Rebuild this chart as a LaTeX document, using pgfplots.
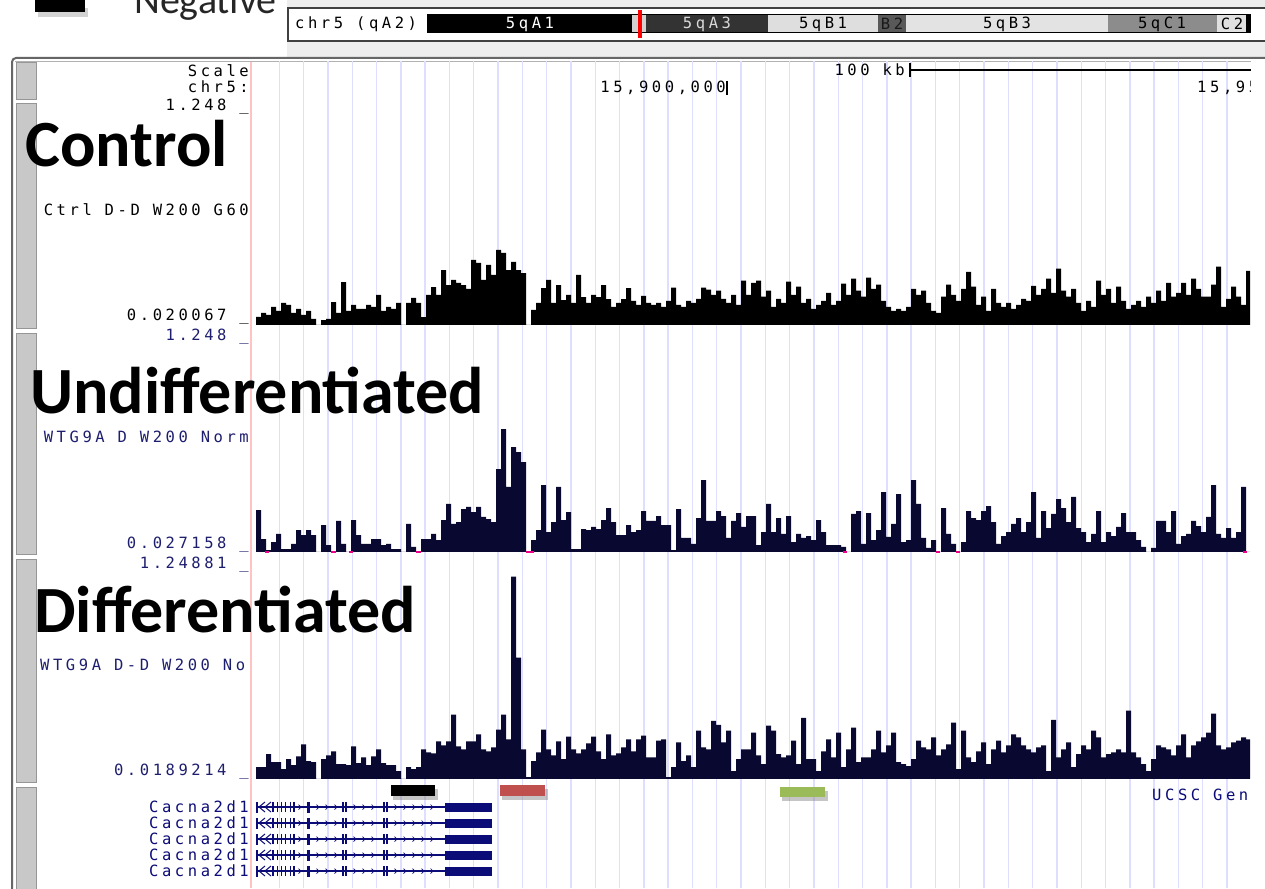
\documentclass[border=0pt]{standalone}
\usepackage{fontspec}
\usepackage{pgfplots}
\pgfplotsset{compat=1.18}
\setmainfont{Carlito}
\newfontfamily\ucsc[LetterSpace=23]{DejaVu Sans Mono}
\newcommand{\uf}{\ucsc\fontsize{15.5}{16}\selectfont}
\newcommand{\bigf}{\bfseries\fontsize{66}{66}\selectfont}
\definecolor{navyd}{RGB}{8,8,48}
\definecolor{lbl}{RGB}{30,30,110}
\definecolor{gene}{RGB}{12,12,120}
\definecolor{lav}{RGB}{222,222,255}
\definecolor{pinkline}{RGB}{255,195,195}
\definecolor{redbar}{RGB}{192,80,77}
\definecolor{grnbar}{RGB}{155,187,89}
\definecolor{btn}{RGB}{200,200,200}
\definecolor{btnd}{RGB}{150,150,150}
\pgfplotsset{
 pix/.style={at={(0pt,0pt)}, anchor=south west, scale only axis, width=1265pt, height=888pt,
   xmin=0, xmax=1265, ymin=0, ymax=888, y dir=reverse, hide axis, clip=false},
 trk/.style={anchor=south west, scale only axis, width=994pt, xmin=0, xmax=198.8, hide axis, clip=true}
}
\newcommand{\gm}[1]{%
 \draw[gene, line width=1.2pt] (axis cs:256,#1) -- (axis cs:446,#1);
 \fill[gene] (axis cs:445,#1) ++(0,-4.5pt) rectangle ++(47pt,9pt);
 \fill[gene] (axis cs:307,#1) ++(0,-5.5pt) rectangle ++(3pt,11pt);
 \draw[gene, line width=1.3pt]
  (axis cs:257,#1) ++(0,-5.5pt) -- ++(0,11pt)
  (axis cs:273,#1) ++(0,-5pt) -- ++(0,10pt)
  (axis cs:277.5,#1) ++(0,-5pt) -- ++(0,10pt)
  (axis cs:281.6,#1) ++(0,-5pt) -- ++(0,10pt)
  (axis cs:285.7,#1) ++(0,-5pt) -- ++(0,10pt)
  (axis cs:290.6,#1) ++(0,-5pt) -- ++(0,10pt)
  (axis cs:294,#1) ++(0,-5pt) -- ++(0,10pt)
  (axis cs:343,#1) ++(0,-5pt) -- ++(0,10pt)
  (axis cs:346,#1) ++(0,-5pt) -- ++(0,10pt)
  (axis cs:384,#1) ++(0,-5pt) -- ++(0,10pt)
  (axis cs:387,#1) ++(0,-5pt) -- ++(0,10pt);
 \draw[gene, line width=1pt]
  (axis cs:265,#1) ++(0,-5pt) -- ++(-6pt,5pt) -- ++(6pt,5pt)
  (axis cs:271,#1) ++(0,-5pt) -- ++(-6pt,5pt) -- ++(6pt,5pt);
 \draw[gene, line width=0.7pt]
  (axis cs:300,#1) ++(-1.5pt,-2.5pt) -- ++(2.5pt,2.5pt) -- ++(-2.5pt,2.5pt)
  (axis cs:318,#1) ++(-1.5pt,-2.5pt) -- ++(2.5pt,2.5pt) -- ++(-2.5pt,2.5pt)
  (axis cs:327,#1) ++(-1.5pt,-2.5pt) -- ++(2.5pt,2.5pt) -- ++(-2.5pt,2.5pt)
  (axis cs:336,#1) ++(-1.5pt,-2.5pt) -- ++(2.5pt,2.5pt) -- ++(-2.5pt,2.5pt)
  (axis cs:355,#1) ++(-1.5pt,-2.5pt) -- ++(2.5pt,2.5pt) -- ++(-2.5pt,2.5pt)
  (axis cs:364,#1) ++(-1.5pt,-2.5pt) -- ++(2.5pt,2.5pt) -- ++(-2.5pt,2.5pt)
  (axis cs:373,#1) ++(-1.5pt,-2.5pt) -- ++(2.5pt,2.5pt) -- ++(-2.5pt,2.5pt)
  (axis cs:396,#1) ++(-1.5pt,-2.5pt) -- ++(2.5pt,2.5pt) -- ++(-2.5pt,2.5pt)
  (axis cs:405,#1) ++(-1.5pt,-2.5pt) -- ++(2.5pt,2.5pt) -- ++(-2.5pt,2.5pt)
  (axis cs:414,#1) ++(-1.5pt,-2.5pt) -- ++(2.5pt,2.5pt) -- ++(-2.5pt,2.5pt)
  (axis cs:423,#1) ++(-1.5pt,-2.5pt) -- ++(2.5pt,2.5pt) -- ++(-2.5pt,2.5pt)
  (axis cs:432,#1) ++(-1.5pt,-2.5pt) -- ++(2.5pt,2.5pt) -- ++(-2.5pt,2.5pt);
}
\begin{document}
\begin{tikzpicture}
\path[use as bounding box] (0,0) rectangle (1265pt,888pt);
\clip (0,0) rectangle (1265pt,888pt);
% ---------- background ----------
\begin{axis}[pix]
 \fill[white] (axis cs:0,0) rectangle (axis cs:1265,888);
 \fill[black!7] (axis cs:287,0) rectangle (axis cs:1265,58);
 \fill[black!35, opacity=.5] (axis cs:38,8) rectangle (axis cs:88,17);
 \fill[black] (axis cs:35,0) rectangle (axis cs:85,12);
 \node[anchor=base west, font=\fontsize{40}{40}\selectfont, text=black!85, inner sep=0pt] at (axis cs:134,14) {Negative};
 \filldraw[fill=white, draw=black!75, line width=1.5pt] (axis cs:288,8) rectangle (axis cs:1275,41);
 \node[anchor=west, font=\uf, inner sep=0pt] at (axis cs:295,24) {chr5 (qA2)};
 \fill[black] (axis cs:427,15) rectangle (axis cs:632,33);
 \fill[black!18] (axis cs:632,15) rectangle (axis cs:646,33);
 \fill[black!80] (axis cs:646,15) rectangle (axis cs:768,33);
 \fill[black!13] (axis cs:768,15) rectangle (axis cs:878,33);
 \fill[black!65] (axis cs:878,15) rectangle (axis cs:906,33);
 \fill[black!11] (axis cs:906,15) rectangle (axis cs:1108,33);
 \fill[black!45] (axis cs:1108,15) rectangle (axis cs:1217,33);
 \fill[black!12] (axis cs:1217,15) rectangle (axis cs:1246,33);
 \fill[black] (axis cs:1246,15) rectangle (axis cs:1250,33);
 \draw[black, line width=1pt] (axis cs:427,15) rectangle (axis cs:1250,33);
 \node[font=\uf, text=white, inner sep=0pt] at (axis cs:530,24) {5qA1};
 \node[font=\uf, text=black!15, inner sep=0pt] at (axis cs:707,24) {5qA3};
 \node[font=\uf, inner sep=0pt] at (axis cs:823,24) {5qB1};
 \node[font=\uf, text=black!90, inner sep=0pt] at (axis cs:892,24) {B2};
 \node[font=\uf, inner sep=0pt] at (axis cs:1007,24) {5qB3};
 \node[font=\uf, inner sep=0pt] at (axis cs:1162,24) {5qC1};
 \node[font=\uf, inner sep=0pt] at (axis cs:1232,24) {C2};
 \fill[red] (axis cs:638,10) rectangle (axis cs:642,38);
 \fill[white] (axis cs:12,58) rectangle (axis cs:1265,888);
 \draw[black!60, line width=2pt, rounded corners=4pt] (axis cs:1270,58) -- (axis cs:12,58) -- (axis cs:12,895);
 \draw[black!30, line width=1pt] (axis cs:1270,61.5) -- (axis cs:15,61.5);
 \filldraw[fill=btn, draw=btnd, line width=1pt] (axis cs:16,63) rectangle (axis cs:36,100);
 \filldraw[fill=btn, draw=btnd, line width=1pt] (axis cs:16,104) rectangle (axis cs:36,328);
 \filldraw[fill=btn, draw=btnd, line width=1pt] (axis cs:16,333) rectangle (axis cs:36,554);
 \filldraw[fill=btn, draw=btnd, line width=1pt] (axis cs:16,559) rectangle (axis cs:36,782);
 \filldraw[fill=btn, draw=btnd, line width=1pt] (axis cs:16,787) rectangle (axis cs:36,900);
 \draw[pinkline, line width=1.5pt] (axis cs:251,62) -- (axis cs:251,888);
\end{axis}
% ---------- vertical guide lines ----------
\begin{axis}[at={(256pt,0pt)}, anchor=south west, scale only axis, width=994pt, height=827pt,
  xmin=256, xmax=1250, ymin=0, ymax=1, axis line style={draw=none}, tick style={draw=none},
  xtick={279.3,303.6,...,1250}, xticklabels={}, ytick=\empty, xmajorgrids,
  major grid style={draw=lav, line width=1.4pt}]
\end{axis}
% ---------- Control track ----------
\begin{axis}[trk, at={(256pt,563pt)}, height=217pt, ymin=0.020067, ymax=1.248]
\addplot[const plot, fill=black, draw=none] coordinates {
(0,0.066)(1,0.088)(2,0.077)(3,0.123)(4,0.100)(5,0.145)(6,0.134)(7,0.088)(8,0.111)(9,0.077)
(10,0.100)(11,0.054)(12,0.020)(13,0.048)(14,0.054)(15,0.150)(16,0.088)(17,0.263)(18,0.100)(19,0.134)
(20,0.111)(21,0.111)(22,0.134)(23,0.122)(24,0.190)(25,0.100)(26,0.122)(27,0.111)(28,0.145)(29,0.020)
(30,0.145)(31,0.173)(32,0.145)(33,0.065)(34,0.190)(35,0.235)(36,0.190)(37,0.331)(38,0.246)(39,0.275)
(40,0.258)(41,0.246)(42,0.224)(43,0.388)(44,0.371)(45,0.275)(46,0.360)(47,0.303)(48,0.445)(49,0.428)
(50,0.331)(51,0.377)(52,0.331)(53,0.314)(54,0.020)(55,0.105)(56,0.145)(57,0.229)(58,0.275)(59,0.145)
(60,0.246)(61,0.161)(62,0.190)(63,0.145)(64,0.303)(65,0.178)(66,0.145)(67,0.190)(68,0.178)(69,0.246)
(70,0.167)(71,0.122)(72,0.145)(73,0.167)(74,0.229)(75,0.156)(76,0.134)
(77,0.185)(78,0.145)(79,0.134)(80,0.145)(81,0.123)(82,0.157)(83,0.231)(84,0.134)(85,0.123)(86,0.157)
(87,0.145)(88,0.168)(89,0.231)(90,0.220)(91,0.191)(92,0.214)(93,0.168)(94,0.145)(95,0.191)(96,0.134)
(97,0.271)(98,0.191)(99,0.259)(100,0.271)(101,0.180)(102,0.214)(103,0.123)(104,0.168)(105,0.145)(106,0.265)
(107,0.191)(108,0.237)(109,0.145)(110,0.168)(111,0.111)(112,0.134)(113,0.157)(114,0.202)(115,0.134)(116,0.157)
(117,0.254)(118,0.191)(119,0.282)(120,0.214)(121,0.180)(122,0.288)(123,0.225)(124,0.248)(125,0.157)(126,0.123)
(127,0.100)(128,0.111)(129,0.100)(130,0.123)(131,0.225)(132,0.191)(133,0.214)(134,0.145)(135,0.100)(136,0.088)
(137,0.180)(138,0.248)(139,0.191)(140,0.157)(141,0.225)(142,0.320)(143,0.237)(144,0.134)(145,0.180)(146,0.100)
(147,0.225)(148,0.145)(149,0.123)(150,0.145)(151,0.111)(152,0.134)(153,0.168)(154,0.157)(155,0.242)(156,0.191)
(157,0.225)(158,0.282)(159,0.202)(160,0.339)(161,0.214)(162,0.180)(163,0.225)(164,0.145)(165,0.100)(166,0.157)
(167,0.123)(168,0.271)(169,0.191)(170,0.225)(171,0.145)(172,0.237)(173,0.157)(174,0.111)(175,0.134)(176,0.157)
(177,0.123)(178,0.180)(179,0.145)(180,0.214)(181,0.157)(182,0.259)(183,0.180)(184,0.202)(185,0.259)(186,0.191)
(187,0.282)(188,0.225)(189,0.180)(190,0.180)(191,0.248)(192,0.351)(193,0.123)(194,0.168)(195,0.237)(196,0.180)
(197,0.134)(198,0.326)(199,0.326)
} \closedcycle;
\end{axis}
% ---------- Undifferentiated track ----------
\begin{axis}[trk, at={(256pt,336pt)}, height=214pt, ymin=0.027158, ymax=1.248]
\addplot[const plot, fill=navyd, draw=none] coordinates {
(0,0.266)(1,0.101)(2,0.038)(3,0.084)(4,0.130)(5,0.044)(6,0.044)(7,0.073)(8,0.152)(9,0.124)
(10,0.152)(11,0.124)(12,0.027)(13,0.181)(14,0.067)(15,0.027)(16,0.204)(17,0.073)(18,0.027)(19,0.209)
(20,0.124)(21,0.073)(22,0.073)(23,0.101)(24,0.101)(25,0.067)(26,0.073)(27,0.044)(28,0.044)(29,0.027)
(30,0.187)(31,0.056)(32,0.027)(33,0.101)(34,0.101)(35,0.130)(36,0.095)(37,0.209)(38,0.301)(39,0.187)
(40,0.198)(41,0.272)(42,0.284)(43,0.255)(44,0.284)(45,0.227)(46,0.215)(47,0.198)(48,0.500)(49,0.728)
(50,0.398)(51,0.626)(52,0.597)(53,0.540)(54,0.027)(55,0.095)(56,0.152)(57,0.409)(58,0.141)(59,0.198)
(60,0.398)(61,0.209)(62,0.255)(63,0.044)(64,0.044)(65,0.158)(66,0.152)(67,0.170)(68,0.158)(69,0.209)
(70,0.278)(71,0.198)(72,0.124)(73,0.124)(74,0.181)(75,0.141)(76,0.152)(77,0.261)(78,0.204)(79,0.204)
(80,0.232)(81,0.181)(82,0.181)(83,0.038)(84,0.272)(85,0.107)(86,0.107)(87,0.073)(88,0.221)(89,0.437)
(90,0.204)(91,0.204)(92,0.261)(93,0.232)(94,0.107)(95,0.204)(96,0.249)(97,0.170)(98,0.232)(99,0.232)
(100,0.067)(101,0.141)(102,0.301)(103,0.141)(104,0.221)(105,0.130)(106,0.232)(107,0.084)(108,0.130)(109,0.107)
(110,0.118)(111,0.095)(112,0.209)(113,0.141)(114,0.067)(115,0.067)(116,0.067)(117,0.056)(118,0.027)(119,0.244)
(120,0.261)(121,0.073)(122,0.249)(123,0.095)(124,0.152)(125,0.369)(126,0.113)(127,0.187)(128,0.358)(129,0.084)
(130,0.095)(131,0.437)(132,0.301)(133,0.107)(134,0.050)(135,0.095)(136,0.027)(137,0.278)(138,0.130)(139,0.073)
(140,0.027)(141,0.084)(142,0.261)(143,0.221)(144,0.209)(145,0.261)(146,0.289)(147,0.198)(148,0.073)(149,0.118)
(150,0.141)(151,0.187)(152,0.221)(153,0.141)(154,0.198)(155,0.369)(156,0.107)(157,0.261)(158,0.164)(159,0.244)
(160,0.329)(161,0.278)(162,0.198)(163,0.341)(164,0.164)(165,0.141)(166,0.084)(167,0.130)(168,0.261)(169,0.084)
(170,0.141)(171,0.118)(172,0.170)(173,0.249)(174,0.141)(175,0.141)(176,0.095)(177,0.056)(178,0.027)(179,0.050)
(180,0.204)(181,0.204)(182,0.141)(183,0.261)(184,0.073)(185,0.118)(186,0.130)(187,0.204)(188,0.175)(189,0.141)
(190,0.227)(191,0.409)(192,0.130)(193,0.107)(194,0.164)(195,0.107)(196,0.141)(197,0.398)(198,0.027)(199,0.027)
} \closedcycle;
\end{axis}
% ---------- Differentiated track ----------
\begin{axis}[trk, at={(256pt,109pt)}, height=213pt, ymin=0.0189214, ymax=1.24881]
\addplot[const plot, fill=navyd, draw=none] coordinates {
(0,0.087)(1,0.087)(2,0.162)(3,0.116)(4,0.116)(5,0.076)(6,0.133)(7,0.099)(8,0.150)(9,0.219)
(10,0.122)(11,0.116)(12,0.019)(13,0.133)(14,0.156)(15,0.179)(16,0.105)(17,0.105)(18,0.099)(19,0.207)
(20,0.110)(21,0.144)(22,0.099)(23,0.150)(24,0.190)(25,0.110)(26,0.099)(27,0.099)(28,0.065)(29,0.019)
(30,0.087)(31,0.076)(32,0.087)(33,0.190)(34,0.173)(35,0.167)(36,0.236)(37,0.213)(38,0.236)(39,0.390)
(40,0.207)(41,0.190)(42,0.236)(43,0.236)(44,0.276)(45,0.190)(46,0.179)(47,0.201)(48,0.304)(49,0.390)
(50,0.247)(51,1.188)(52,0.720)(53,0.190)(54,0.030)(55,0.122)(56,0.173)(57,0.304)(58,0.190)(59,0.156)
(60,0.236)(61,0.133)(62,0.264)(63,0.190)(64,0.167)(65,0.190)(66,0.224)(67,0.264)(68,0.179)(69,0.133)
(70,0.276)(71,0.156)(72,0.167)(73,0.201)(74,0.247)(75,0.179)(76,0.247)(77,0.270)(78,0.144)(79,0.144)
(80,0.241)(81,0.247)(82,0.030)(83,0.087)(84,0.230)(85,0.122)(86,0.156)(87,0.087)(88,0.298)(89,0.201)
(90,0.190)(91,0.355)(92,0.332)(93,0.230)(94,0.298)(95,0.065)(96,0.133)(97,0.190)(98,0.190)(99,0.287)
(100,0.156)(101,0.105)(102,0.327)(103,0.298)(104,0.162)(105,0.144)(106,0.156)(107,0.241)(108,0.105)(109,0.372)
(110,0.133)(111,0.133)(112,0.065)(113,0.179)(114,0.247)(115,0.144)(116,0.287)(117,0.087)(118,0.190)(119,0.316)
(120,0.116)(121,0.144)(122,0.144)(123,0.190)(124,0.298)(125,0.173)(126,0.213)(127,0.287)(128,0.116)(129,0.105)
(130,0.093)(131,0.133)(132,0.241)(133,0.201)(134,0.190)(135,0.259)(136,0.156)(137,0.190)(138,0.219)(139,0.344)
(140,0.076)(141,0.298)(142,0.144)(143,0.116)(144,0.179)(145,0.230)(146,0.105)(147,0.190)(148,0.241)(149,0.173)
(150,0.213)(151,0.276)(152,0.259)(153,0.213)(154,0.190)(155,0.173)(156,0.201)(157,0.213)(158,0.065)(159,0.361)
(160,0.144)(161,0.190)(162,0.230)(163,0.087)(164,0.162)(165,0.213)(166,0.190)(167,0.298)(168,0.259)(169,0.144)
(170,0.162)(171,0.173)(172,0.190)(173,0.173)(174,0.413)(175,0.173)(176,0.144)(177,0.105)(178,0.065)(179,0.133)
(180,0.213)(181,0.201)(182,0.190)(183,0.156)(184,0.213)(185,0.276)(186,0.144)(187,0.213)(188,0.236)(189,0.259)
(190,0.287)(191,0.396)(192,0.213)(193,0.190)(194,0.201)(195,0.230)(196,0.241)(197,0.259)(198,0.247)(199,0.247)
} \closedcycle;
\end{axis}
% ---------- overlay: labels, genes ----------
\begin{axis}[pix]
 \draw[magenta, line width=2pt] (axis cs:265,552) -- (axis cs:269,552) (axis cs:331,552) -- (axis cs:336,552)
   (axis cs:349,552) -- (axis cs:353,552) (axis cs:416,552) -- (axis cs:421,552) (axis cs:526,552) -- (axis cs:534,552)
   (axis cs:843,552) -- (axis cs:847,552) (axis cs:936,552) -- (axis cs:940,552) (axis cs:956,552) -- (axis cs:960,552)
   (axis cs:1243,552) -- (axis cs:1247,552);
 \node[anchor=east, font=\uf, inner sep=0pt] at (axis cs:249,71) {Scale};
 \node[anchor=east, font=\uf, inner sep=0pt] at (axis cs:249,87) {chr5:};
 \node[anchor=east, font=\uf, inner sep=0pt] at (axis cs:905,70) {100 kb};
 \draw[black, line width=1.3pt] (axis cs:910,63) -- (axis cs:910,77) (axis cs:910,70) -- (axis cs:1265,70);
 \node[anchor=east, font=\uf, inner sep=0pt] at (axis cs:726,88) {15,900,000};
 \draw[black, line width=1.3pt] (axis cs:727,81) -- (axis cs:727,95);
 \node[anchor=west, font=\uf, inner sep=0pt] at (axis cs:1197,88) {15,950,000};
 \node[anchor=east, font=\uf, inner sep=0pt] at (axis cs:249,107) {1.248 \_};
 \node[anchor=base west, font=\bigf, inner sep=0pt] at (axis cs:25,166) {Control};
 \node[anchor=east, font=\uf, inner sep=0pt] at (axis cs:249,210) {Ctrl D-D W200 G60};
 \node[anchor=east, font=\uf, inner sep=0pt] at (axis cs:249,317) {0.020067 \_};
 \node[anchor=east, font=\uf, text=lbl, inner sep=0pt] at (axis cs:249,337) {1.248 \_};
 \node[anchor=base west, font=\bigf, inner sep=0pt] at (axis cs:30,413) {Undifferentiated};
 \node[anchor=east, font=\uf, text=lbl, inner sep=0pt] at (axis cs:249,437) {WTG9A D W200 Norm};
 \node[anchor=east, font=\uf, text=lbl, inner sep=0pt] at (axis cs:249,545) {0.027158 \_};
 \node[anchor=east, font=\uf, text=lbl, inner sep=0pt] at (axis cs:249,565) {1.24881 \_};
 \node[anchor=base west, font=\bigf, inner sep=0pt] at (axis cs:34,632) {Differentiated};
 \begin{scope}
  \clip (axis cs:30,640) rectangle (axis cs:250,690);
  \node[anchor=west, font=\uf, text=lbl, inner sep=0pt] at (axis cs:40,665) {WTG9A D-D W200 Norm};
 \end{scope}
 \node[anchor=east, font=\uf, text=lbl, inner sep=0pt] at (axis cs:249,772) {0.0189214 \_};
 \fill[black!50, opacity=.45] (axis cs:393,789) rectangle (axis cs:438,800);
 \fill[black] (axis cs:391,785) rectangle (axis cs:435,796);
 \fill[black!50, opacity=.45] (axis cs:502,789) rectangle (axis cs:548,800);
 \fill[redbar] (axis cs:500,785) rectangle (axis cs:545,796);
 \fill[black!50, opacity=.45] (axis cs:782,791) rectangle (axis cs:828,801);
 \fill[grnbar] (axis cs:780,787) rectangle (axis cs:825,797);
 \node[anchor=west, font=\uf, text=gene, inner sep=0pt] at (axis cs:1152,795) {UCSC Genes};
 \node[anchor=east, font=\uf, text=gene, inner sep=0pt] at (axis cs:249,807) {Cacna2d1};
 \node[anchor=east, font=\uf, text=gene, inner sep=0pt] at (axis cs:249,823) {Cacna2d1};
 \node[anchor=east, font=\uf, text=gene, inner sep=0pt] at (axis cs:249,839) {Cacna2d1};
 \node[anchor=east, font=\uf, text=gene, inner sep=0pt] at (axis cs:249,855) {Cacna2d1};
 \node[anchor=east, font=\uf, text=gene, inner sep=0pt] at (axis cs:249,871) {Cacna2d1};
 \gm{807}\gm{823}\gm{839}\gm{855}\gm{871}
 \fill[white] (axis cs:1251,60) rectangle (axis cs:1266,889);
\end{axis}
\end{tikzpicture}
\end{document}
